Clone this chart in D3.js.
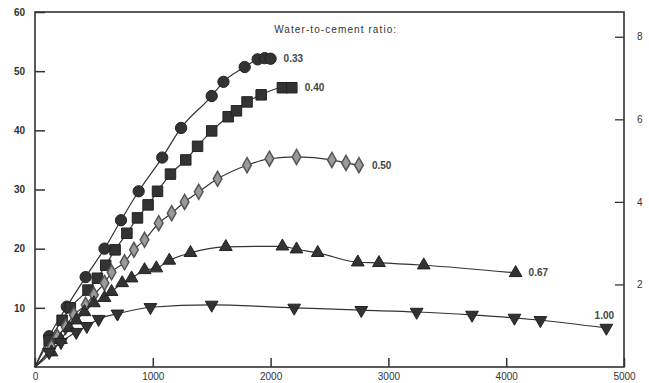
<!DOCTYPE html>
<html>
<head>
<meta charset="utf-8">
<script src="https://cdn.jsdelivr.net/npm/d3@7"></script>
<style>
  body { margin: 0; background: #fff; }
  .axis text { font-family: "Liberation Sans", Arial, sans-serif; fill: #333; }
  .axis path, .axis line { stroke: #333; }
</style>
</head>
<body>
<div id="chart"></div>
<script>
// strain (microstrain) and stress (MPa)
const ratios = ["0.33", "0.40", "0.50", "0.67", "1.00"];

const strain033 = [0, 120, 270, 430, 590, 730, 880, 1080, 1240, 1500, 1600, 1780, 1890, 1950, 2000];
const stress033 = [0, 5.2, 10.2, 15.2, 20, 24.8, 29.7, 35.4, 40.4, 45.8, 48.2, 50.7, 52, 52.2, 52.1];

const strain040 = [0, 120, 230, 300, 450, 530, 600, 680, 780, 870, 960, 1040, 1150, 1280, 1380, 1500, 1640, 1710, 1800, 1920, 2100, 2180];
const stress040 = [0, 4.5, 7.9, 10, 13, 15, 17.2, 19.8, 22.6, 25.2, 27.4, 29.7, 32.6, 35, 37.3, 39.9, 42.3, 43.3, 44.8, 46, 47.2, 47.2];

const strain050 = [0, 140, 190, 260, 330, 430, 500, 590, 650, 760, 840, 930, 1050, 1160, 1270, 1390, 1550, 1800, 1990, 2220, 2520, 2640, 2750];
const stress050 = [0, 3.4, 5.1, 6.8, 8.8, 10.5, 12.2, 14.2, 16, 17.7, 19.8, 21.5, 24.3, 26, 27.9, 29.6, 31.8, 34.1, 35.2, 35.5, 35, 34.5, 34.1];

const strain067 = [0, 140, 220, 290, 350, 420, 500, 590, 650, 740, 820, 930, 1030, 1140, 1320, 1620, 2100, 2220, 2400, 2740, 2920, 3300, 4080];
const stress067 = [0, 2.5, 4.6, 6.6, 7.9, 9.3, 10.8, 11.7, 12.7, 14.2, 15, 16.4, 16.7, 18, 19.3, 20.3, 20.4, 19.9, 19.3, 17.7, 17.6, 17.2, 15.9];

const strain100 = [0, 120, 220, 350, 440, 540, 700, 980, 1500, 2200, 2770, 3240, 3710, 4070, 4290, 4850];
const stress100 = [0, 2.5, 4.2, 5.9, 6.9, 8.1, 9, 10.1, 10.5, 10, 9.6, 9.3, 8.8, 8.3, 7.9, 6.6];

const xTicks = [0, 1000, 2000, 3000, 4000, 5000];
const yTicks = [10, 20, 30, 40, 50, 60];
const ksiTicks = [2, 4, 6, 8];
const legendTitle = "Water-to-cement ratio:";

const series = [
  { name: ratios[0], x: strain033, y: stress033, shape: "circle" },
  { name: ratios[1], x: strain040, y: stress040, shape: "square" },
  { name: ratios[2], x: strain050, y: stress050, shape: "diamond" },
  { name: ratios[3], x: strain067, y: stress067, shape: "triangle" },
  { name: ratios[4], x: strain100, y: stress100, shape: "down" }
];

const margin = {top: 12, right: 25, bottom: 16, left: 35},
    width = 649 - margin.left - margin.right,
    height = 383 - margin.top - margin.bottom;

const svg = d3.select("#chart").append("svg")
    .attr("width", 649)
    .attr("height", 383)
    .append("g")
    .attr("transform", `translate(${margin.left}, ${margin.top})`);

const x = d3.scaleLinear().domain([0, 5000]).range([0, width]);
const y = d3.scaleLinear().domain([0, 60]).range([height, 0]);
const yKsi = d3.scaleLinear().domain([0, 8.6]).range([height, 0]);

// frame
svg.append("rect")
    .attr("width", width).attr("height", height)
    .attr("fill", "none").attr("stroke", "#333").attr("stroke-width", 1.6);

const bottom = svg.append("g")
    .attr("class", "axis")
    .attr("transform", `translate(0, ${height})`)
    .call(d3.axisBottom(x).tickValues(xTicks).tickSize(-9).tickPadding(3).tickFormat(d3.format("d")));
bottom.select(".domain").remove();
bottom.selectAll("line").attr("stroke-width", 1.5);
bottom.selectAll("text").style("font-size", "10px").attr("dy", "0.95em");

const left = svg.append("g")
    .attr("class", "axis")
    .call(d3.axisLeft(y).tickValues(yTicks).tickSize(-10).tickPadding(10));
left.select(".domain").remove();
left.selectAll("line").attr("stroke-width", 1.5);
left.selectAll("text").style("font-size", "10px").style("font-weight", "bold");

const right = svg.append("g")
    .attr("class", "axis")
    .attr("transform", `translate(${width}, 0)`)
    .call(d3.axisRight(yKsi).tickValues(ksiTicks).tickSize(-9).tickPadding(13));
right.select(".domain").remove();
right.selectAll("line").attr("stroke-width", 1.3);
right.selectAll("text").style("font-size", "10px");

const line = d3.line()
    .x(d => x(d[0]))
    .y(d => y(d[1]))
    .curve(d3.curveMonotoneX);

const symbolFor = {
  circle: d3.symbol().type(d3.symbolCircle).size(100),
  square: d3.symbol().type(d3.symbolSquare).size(110),
  diamond: d3.symbol().type(d3.symbolDiamond).size(65),
  triangle: d3.symbol().type(d3.symbolTriangle).size(70),
  down: d3.symbol().type(d3.symbolTriangle).size(70)
};

series.forEach(s => {
  const pts = s.x.map((v, i) => [v, s.y[i]]);
  svg.append("path")
      .datum(pts)
      .attr("fill", "none")
      .attr("stroke", "#333")
      .attr("stroke-width", 1.2)
      .attr("d", line);

  const gray = s.shape === "diamond";
  svg.selectAll(null)
      .data(pts.slice(1))
      .enter().append("path")
      .attr("d", symbolFor[s.shape])
      .attr("transform", d => `translate(${x(d[0])}, ${y(d[1])})` + (s.shape === "down" ? " rotate(180)" : ""))
      .attr("fill", gray ? "#9a9a9a" : "#333")
      .attr("stroke", gray ? "#555" : "#222")
      .attr("stroke-width", gray ? 1.5 : 1);

  const last = pts[pts.length - 1];
  const lbl = svg.append("text")
      .attr("font-family", "Liberation Sans, Arial, sans-serif")
      .attr("font-size", "10px")
      .attr("font-weight", "bold")
      .attr("fill", "#444")
      .text(s.name);
  if (s.shape === "down") {
    lbl.attr("x", x(last[0]) - 2).attr("y", y(last[1]) - 9).attr("text-anchor", "middle");
  } else {
    lbl.attr("x", x(last[0]) + 13).attr("y", y(last[1])).attr("dy", "0.35em");
  }
});

svg.append("text")
    .attr("x", x(2030))
    .attr("y", 21)
    .attr("font-family", "Liberation Sans, Arial, sans-serif")
    .attr("font-size", "10px")
    .attr("fill", "#333")
    .attr("textLength", 122)
    .text(legendTitle);
</script>
</body>
</html>
